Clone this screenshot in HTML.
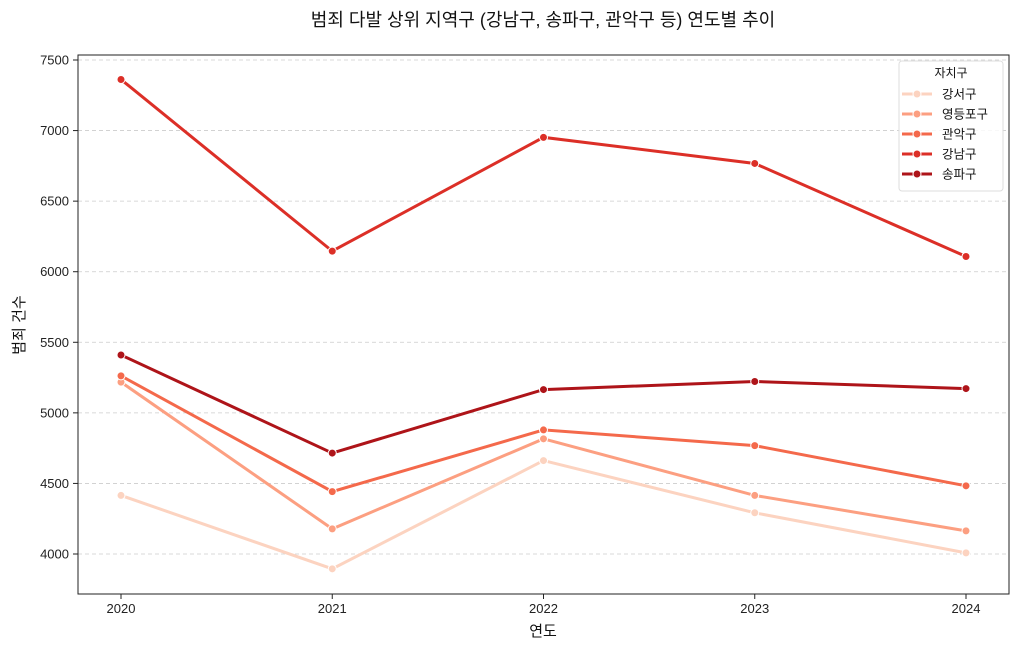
<!DOCTYPE html>
<html><head><meta charset="utf-8">
<style>
body{margin:0;background:#fff;font-family:"Liberation Sans","Noto Sans CJK KR",sans-serif;}
svg text{font-family:"Liberation Sans","Noto Sans CJK KR",sans-serif;}
</style></head><body>
<svg id="chart" width="1019" height="649" xmlns="http://www.w3.org/2000/svg">
<text x="543" y="26" text-anchor="middle" font-size="18" fill="#111">범죄 다발 상위 지역구 (강남구, 송파구, 관악구 등) 연도별 추이</text>
<g id="grid"></g>
<rect x="78" y="55" width="931" height="539" fill="none" stroke="#222" stroke-width="1"/>
<g id="axes"></g>
<g id="series"></g>
<text x="543" y="636" text-anchor="middle" font-size="15" fill="#111">연도</text>
<text transform="translate(24,325) rotate(-90)" text-anchor="middle" font-size="15" fill="#111">범죄 건수</text>
<g id="legend"></g>
</svg>
<script>
const years=[2020,2021,2022,2023,2024];
const yTicks=[4000,4500,5000,5500,6000,6500,7000,7500];
const districts=["강서구","영등포구","관악구","강남구","송파구"];
const colors=["#fcd3c0","#fc9f81","#f4694b","#dc2f27","#ae1419"];
const vGangseo=[4415,3895,4662,4292,4008];
const vYeongdeungpo=[5218,4178,4816,4415,4164];
const vGwanak=[5262,4442,4879,4768,4483];
const vGangnam=[7362,6146,6952,6767,6108];
const vSongpa=[5410,4715,5165,5222,5172];
const values=[vGangseo,vYeongdeungpo,vGwanak,vGangnam,vSongpa];
const NS="http://www.w3.org/2000/svg";
const xs=i=>121+(966-121)*(years[i]-2020)/4;
const ys=v=>554-(v-4000)*(494/3500);
function mk(t,a,p){const e=document.createElementNS(NS,t);for(const k in a)e.setAttribute(k,a[k]);p.appendChild(e);return e;}
const grid=document.getElementById('grid'),axes=document.getElementById('axes'),ser=document.getElementById('series'),leg=document.getElementById('legend');
yTicks.forEach(t=>{const y=ys(t);
const g=mk('line',{x1:78,x2:1009,y1:y,y2:y,stroke:"#ccc","stroke-dasharray":"4,3","stroke-width":0.8},grid);


mk('line',{x1:73,x2:78,y1:y,y2:y,stroke:"#222"},axes);
const tx=mk('text',{x:69,y:y+4.5,"text-anchor":"end","font-size":13,fill:"#222"},axes);tx.textContent=t;

});
years.forEach((yr,i)=>{const x=xs(i);
mk('line',{x1:x,x2:x,y1:594,y2:599,stroke:"#222"},axes);
const tx=mk('text',{x:x,y:613,"text-anchor":"middle","font-size":13,fill:"#222"},axes);tx.textContent=yr;

});
values.forEach((vals,s)=>{
const p=mk('polyline',{points:vals.map((v,i)=>xs(i)+","+ys(v)).join(" "),fill:"none",stroke:colors[s],"stroke-width":3},ser);


vals.forEach((v,i)=>{const c=mk('circle',{cx:xs(i),cy:ys(v),r:4,fill:colors[s],stroke:"#fff","stroke-width":1},ser);

});});
const box=mk('rect',{x:899,y:61,width:104,height:130,rx:3,fill:"#fff","fill-opacity":0.85,stroke:"#ddd"},leg);


const lt=mk('text',{x:951,y:77,"text-anchor":"middle","font-size":12,fill:"#111"},leg);lt.textContent="자치구";


districts.forEach((d,s)=>{const y=94+s*20;
const g=mk('g',{},leg);


mk('line',{x1:902,x2:932,y1:y,y2:y,stroke:colors[s],"stroke-width":3},g);
mk('circle',{cx:917,cy:y,r:4,fill:colors[s],stroke:"#fff"},g);
const t=mk('text',{x:942,y:y+4.5,"font-size":12.5,fill:"#111"},g);t.textContent=d;});
</script>
</body></html>
